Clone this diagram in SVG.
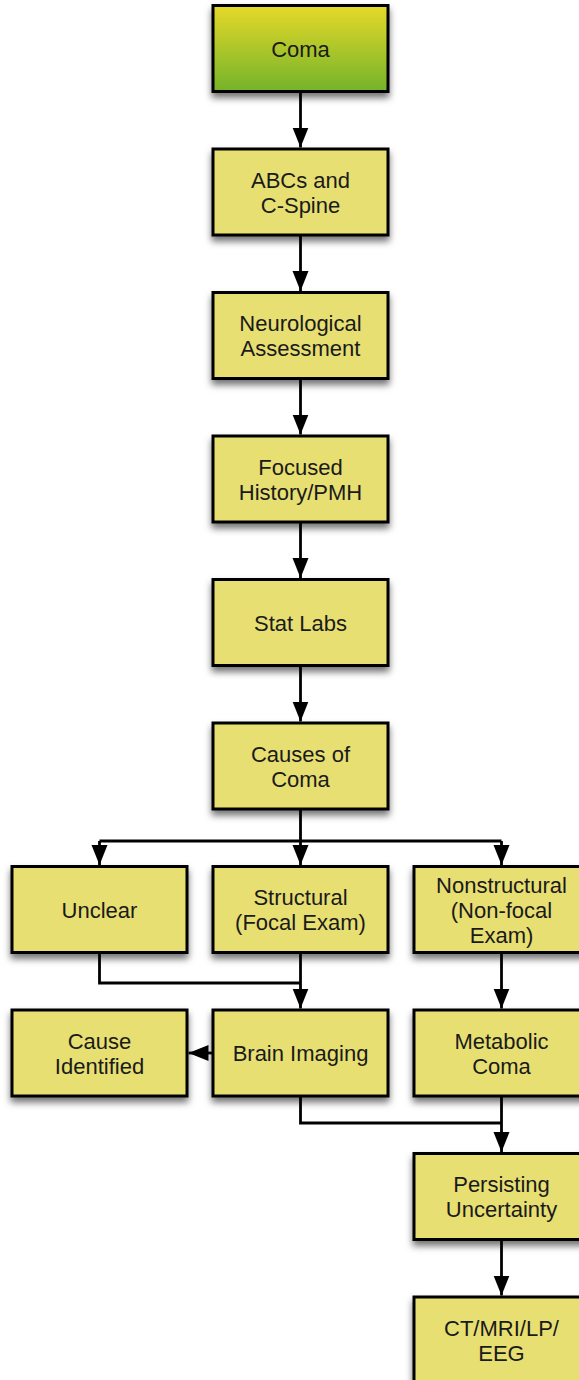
<svg xmlns="http://www.w3.org/2000/svg" width="579" height="1380" viewBox="0 0 579 1380">
<defs>
<linearGradient id="gGreen" x1="0" y1="0" x2="0" y2="1">
<stop offset="0" stop-color="#e6d92c"/>
<stop offset="1" stop-color="#74b32a"/>
</linearGradient>
<filter id="sh" x="-20%" y="-20%" width="140%" height="150%">
<feDropShadow dx="0" dy="5" stdDeviation="3.5" flood-color="#000" flood-opacity="0.55"/>
</filter>
<marker id="ah" markerUnits="userSpaceOnUse" markerWidth="22" markerHeight="18" refX="20" refY="8" orient="auto">
<path d="M0,0 L20,8 L0,16 z" fill="#000"/>
</marker>
</defs>
<style>
.box{fill:#e7df72;stroke:#000;stroke-width:3;filter:url(#sh)}
.start{fill:url(#gGreen)}
.t{font-family:"Liberation Sans",Arial,sans-serif;font-size:22px;fill:#1a1a1a;text-anchor:middle}
.c{fill:none;stroke:#000;stroke-width:2.8}
.a{marker-end:url(#ah)}
</style>
<g id="connectors">
<path class="c a" d="M300.5,91.5 V147.5"/>
<path class="c a" d="M300.5,235 V291"/>
<path class="c a" d="M300.5,378.5 V434.5"/>
<path class="c a" d="M300.5,522 V578"/>
<path class="c a" d="M300.5,665.5 V721.5"/>
<path class="c" d="M300.5,809 V841 M99.5,841 H501.5"/>
<path class="c a" d="M99.5,841 V865"/>
<path class="c a" d="M300.5,841 V865"/>
<path class="c a" d="M501.5,841 V865"/>
<path class="c" d="M99.5,952.5 V983 H300.5"/>
<path class="c a" d="M300.5,952.5 V1008.5"/>
<path class="c a" d="M501.5,952.5 V1008.5"/>
<path class="c a" d="M213,1053 H188.5"/>
<path class="c" d="M300.5,1096 V1123 H501.5"/>
<path class="c a" d="M501.5,1096 V1152"/>
<path class="c a" d="M501.5,1239.5 V1295.5"/>
</g>
<g id="coma"><rect class="box start" x="213" y="5.5" width="175" height="86"/><text class="t" x="300.5" y="56.5">Coma</text></g>
<g id="abcs"><rect class="box" x="213" y="149" width="175" height="86"/><text class="t" x="300.5" y="187.5">ABCs and</text><text class="t" x="300.5" y="212.5">C-Spine</text></g>
<g id="neuro"><rect class="box" x="213" y="292.5" width="175" height="86"/><text class="t" x="300.5" y="331">Neurological</text><text class="t" x="300.5" y="356">Assessment</text></g>
<g id="focused"><rect class="box" x="213" y="436" width="175" height="86"/><text class="t" x="300.5" y="474.5">Focused</text><text class="t" x="300.5" y="499.5">History/PMH</text></g>
<g id="statlabs"><rect class="box" x="213" y="579.5" width="175" height="86"/><text class="t" x="300.5" y="630.5">Stat Labs</text></g>
<g id="causes"><rect class="box" x="213" y="723" width="175" height="86"/><text class="t" x="300.5" y="761.5">Causes of</text><text class="t" x="300.5" y="786.5">Coma</text></g>
<g id="unclear"><rect class="box" x="12" y="866.5" width="175" height="86"/><text class="t" x="99.5" y="917.5">Unclear</text></g>
<g id="structural"><rect class="box" x="213" y="866.5" width="175" height="86"/><text class="t" x="300.5" y="905">Structural</text><text class="t" x="300.5" y="930">(Focal Exam)</text></g>
<g id="nonstructural"><rect class="box" x="414" y="866.5" width="175" height="86"/><text class="t" x="501.5" y="892.5">Nonstructural</text><text class="t" x="501.5" y="917.5">(Non-focal</text><text class="t" x="501.5" y="942.5">Exam)</text></g>
<g id="causeidentified"><rect class="box" x="12" y="1010" width="175" height="86"/><text class="t" x="99.5" y="1048.5">Cause</text><text class="t" x="99.5" y="1073.5">Identified</text></g>
<g id="brainimaging"><rect class="box" x="213" y="1010" width="175" height="86"/><text class="t" x="300.5" y="1061">Brain Imaging</text></g>
<g id="metabolic"><rect class="box" x="414" y="1010" width="175" height="86"/><text class="t" x="501.5" y="1048.5">Metabolic</text><text class="t" x="501.5" y="1073.5">Coma</text></g>
<g id="persisting"><rect class="box" x="414" y="1153.5" width="175" height="86"/><text class="t" x="501.5" y="1192">Persisting</text><text class="t" x="501.5" y="1217">Uncertainty</text></g>
<g id="ctmri"><rect class="box" x="414" y="1297" width="175" height="86"/><text class="t" x="501.5" y="1335.5">CT/MRI/LP/</text><text class="t" x="501.5" y="1360.5">EEG</text></g>
</svg>
